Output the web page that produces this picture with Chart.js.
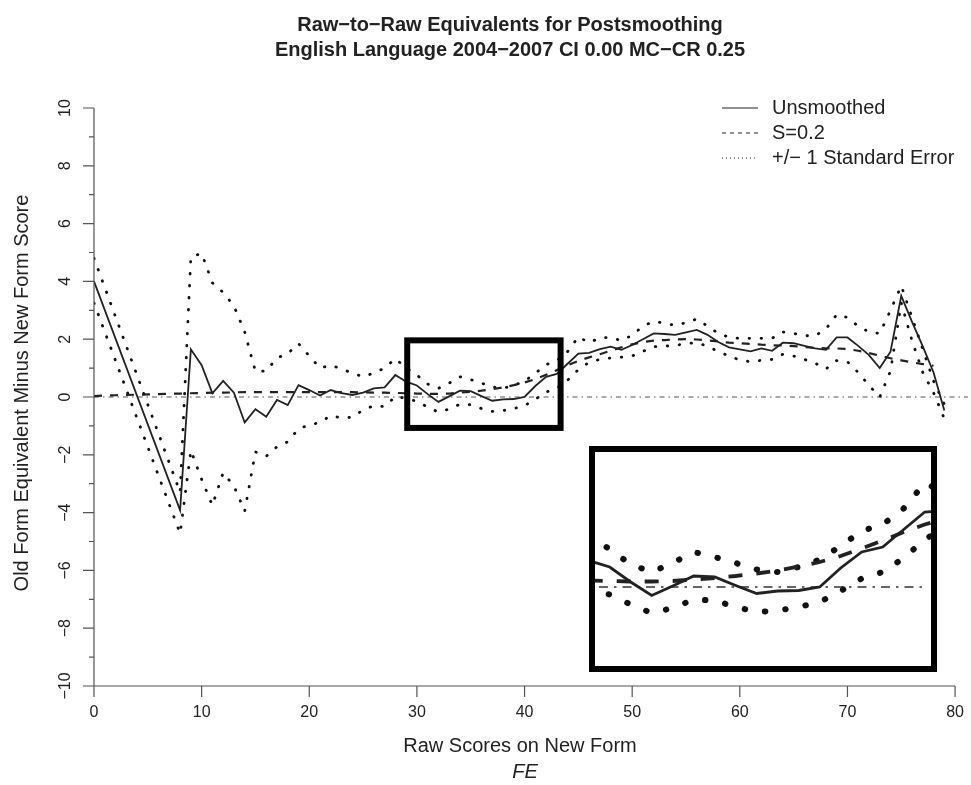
<!DOCTYPE html>
<html>
<head>
<meta charset="utf-8">
<script src="https://cdn.jsdelivr.net/npm/chart.js@4.4.1/dist/chart.umd.min.js"></script>
<style>
  body { margin: 0; background: #fff; }
  #wrap { position: relative; width: 971px; height: 785px; }
  #main { position: absolute; left: 0; top: 0; }
  #inset { position: absolute; left: 589px; top: 446px; }
</style>
</head>
<body>
<div id="wrap">
  <canvas id="main" width="971" height="785"></canvas>
  <canvas id="inset" width="348" height="226"></canvas>
</div>
<script>
var scores = [0, 1, 2, 3, 4, 5, 6, 7, 8, 9, 10, 11, 12, 13, 14, 15, 16, 17, 18, 19,
  20, 21, 22, 23, 24, 25, 26, 27, 28, 29, 30, 31, 32, 33, 34, 35, 36, 37, 38, 39,
  40, 41, 42, 43, 44, 45, 46, 47, 48, 49, 50, 51, 52, 53, 54, 55, 56, 57, 58, 59,
  60, 61, 62, 63, 64, 65, 66, 67, 68, 69, 70, 71, 72, 73, 74, 75, 76, 77, 78, 79]

// unsmoothed raw-to-raw differences (no scores 1-7)
var unsmoothed = [4.0, null, null, null, null, null, null, null, -3.92, 1.65,
  1.1, 0.13, 0.56, 0.15, -0.88, -0.42, -0.68, -0.1, -0.28, 0.41,
  0.24, 0.05, 0.24, 0.13, 0.07, 0.15, 0.3, 0.33, 0.76, 0.53,
  0.4, 0.1, -0.17, 0.02, 0.22, 0.2, 0.03, -0.13, -0.08, -0.07,
  0.0, 0.38, 0.7, 0.8, 1.15, 1.5, 1.53, 1.66, 1.74, 1.63,
  1.8, 2.0, 2.2, 2.18, 2.15, 2.24, 2.32, 2.15, 1.9, 1.72,
  1.65, 1.58, 1.68, 1.6, 1.88, 1.86, 1.77, 1.68, 1.63, 2.06,
  2.06, 1.77, 1.45, 1.0, 1.57, 3.5, 2.6, 1.75, 0.85, -0.47]

// postsmoothed S=0.2
var smoothed = [0.03, 0.05, 0.06, 0.07, 0.08, 0.09, 0.1, 0.11, 0.12, 0.13,
  0.14, 0.15, 0.15, 0.16, 0.17, 0.17, 0.17, 0.17, 0.17, 0.17,
  0.17, 0.17, 0.17, 0.17, 0.17, 0.16, 0.15, 0.15, 0.14, 0.13,
  0.12, 0.11, 0.11, 0.12, 0.15, 0.18, 0.22, 0.27, 0.33, 0.41,
  0.5, 0.62, 0.77, 0.93, 1.1, 1.25, 1.37, 1.48, 1.6, 1.72,
  1.82, 1.9, 1.95, 1.97, 1.99, 2.0, 1.99, 1.96, 1.92, 1.88,
  1.86, 1.84, 1.81, 1.79, 1.78, 1.76, 1.73, 1.7, 1.68, 1.68,
  1.66, 1.6, 1.52, 1.43, 1.34, 1.27, 1.2, 1.14, 1.08, null]

// +/- 1 standard error bands
var upperSE = [4.8, null, null, null, null, null, null, null, -3.3, 4.85,
  4.97, 3.95, 3.62, 3.15, 2.25, 0.88, 0.9, 1.35, 1.5, 1.85,
  1.42, 1.0, 1.1, 0.97, 0.83, 0.7, 0.83, 1.0, 1.33, 1.0,
  0.76, 0.45, 0.3, 0.48, 0.7, 0.6, 0.48, 0.35, 0.3, 0.4,
  0.55, 0.82, 1.12, 1.25, 1.57, 2.08, 1.88, 2.05, 2.06, 1.95,
  2.14, 2.45, 2.62, 2.55, 2.48, 2.57, 2.7, 2.45, 2.2, 2.07,
  2.03, 2.03, 2.03, 2.03, 2.25, 2.2, 2.12, 2.12, 2.35, 2.85,
  2.75, 2.45, 2.25, 2.2, 3.0, 3.85, 2.75, 1.65, 0.55, -0.25]

var lowerSE = [3.25, null, null, null, null, null, null, null, -4.72, -1.85,
  -2.85, -3.75, -2.62, -3.08, -3.95, -1.9, -2.05, -1.72, -1.55, -1.1,
  -0.97, -0.88, -0.64, -0.73, -0.7, -0.45, -0.3, -0.33, 0.02, -0.05,
  -0.15, -0.35, -0.52, -0.42, -0.25, -0.27, -0.4, -0.5, -0.47, -0.4,
  -0.3, -0.08, 0.17, 0.3, 0.58, 0.95, 1.2, 1.3, 1.35, 1.38,
  1.42, 1.58, 1.74, 1.76, 1.78, 1.85, 1.88, 1.76, 1.57, 1.42,
  1.28, 1.22, 1.27, 1.3, 1.48, 1.42, 1.3, 1.17, 0.97, 1.26,
  1.22, 0.85, 0.4, 0.0, 0.9, 3.25, 1.95, 0.85, 0.15, -0.75]

var xTicks = [0, 10, 20, 30, 40, 50, 60, 70, 80]
var yTicks = [-10, -8, -6, -4, -2, 0, 2, 4, 6, 8, 10]
var yMinorTicks = [-9, -7, -5, -3, -1, 1, 3, 5, 7, 9]
var legendLabels = ['Unsmoothed', 'S=0.2', '+/\u2212 1 Standard Error']

// region that is blown up in the inset
var zoomX = [29.1, 43.35]
var zoomY = [-1.07, 1.96]

var FONT = '"Liberation Sans", Arial, Helvetica, sans-serif'
var INK = '#222'

function pts(vals) {
  return scores.map(function (s, i) { return { x: s, y: vals[i] } })
}

function minus(v) {
  return v < 0 ? '\u2212' + Math.abs(v) : String(v)
}

var rAxes = {
  id: 'rAxes',
  beforeDatasetsDraw: function (chart) {
    var ctx = chart.ctx, a = chart.chartArea
    var y0 = chart.scales.y.getPixelForValue(0)
    ctx.save()
    ctx.strokeStyle = '#555'
    ctx.lineWidth = 1
    ctx.setLineDash([5, 4, 1.5, 4])
    ctx.beginPath()
    ctx.moveTo(a.left, y0)
    ctx.lineTo(a.right, y0)
    ctx.stroke()
    ctx.restore()
  },
  afterDraw: function (chart) {
    var ctx = chart.ctx
    var xs = chart.scales.x, ys = chart.scales.y
    var axX = xs.getPixelForValue(0), axY = ys.getPixelForValue(-10)
    ctx.save()
    ctx.strokeStyle = '#555'
    ctx.lineWidth = 1.2

    // y axis
    ctx.beginPath()
    ctx.moveTo(axX, ys.getPixelForValue(10))
    ctx.lineTo(axX, ys.getPixelForValue(-10))
    yTicks.forEach(function (t) {
      var p = ys.getPixelForValue(t)
      ctx.moveTo(axX - 11, p); ctx.lineTo(axX, p)
    })
    yMinorTicks.forEach(function (t) {
      var p = ys.getPixelForValue(t)
      ctx.moveTo(axX - 5, p); ctx.lineTo(axX, p)
    })
    // x axis
    ctx.moveTo(xs.getPixelForValue(0), axY)
    ctx.lineTo(xs.getPixelForValue(80), axY)
    xTicks.forEach(function (t) {
      var p = xs.getPixelForValue(t)
      ctx.moveTo(p, axY); ctx.lineTo(p, axY + 11)
    })
    ctx.stroke()

    ctx.fillStyle = INK
    ctx.font = '16px ' + FONT
    ctx.textAlign = 'center'
    ctx.textBaseline = 'middle'
    xTicks.forEach(function (t) {
      ctx.fillText(String(t), xs.getPixelForValue(t), axY + 27)
    })
    yTicks.forEach(function (t) {
      ctx.save()
      ctx.translate(axX - 28, ys.getPixelForValue(t))
      ctx.rotate(-Math.PI / 2)
      ctx.fillText(minus(t), 0, 0)
      ctx.restore()
    })

    // axis titles
    ctx.font = '20px ' + FONT
    ctx.fillText('Raw Scores on New Form', 520, 746)
    ctx.font = 'italic 20px ' + FONT
    ctx.fillText('FE', 525, 772)
    ctx.font = '20px ' + FONT
    ctx.save()
    ctx.translate(22, 393)
    ctx.rotate(-Math.PI / 2)
    ctx.fillText('Old Form Equivalent Minus New Form Score', 0, 0)
    ctx.restore()

    // title
    ctx.font = 'bold 20px ' + FONT
    ctx.fillText('Raw\u2212to\u2212Raw Equivalents for Postsmoothing', 510, 25)
    ctx.fillText('English Language 2004\u22122007 CI 0.00 MC\u2212CR 0.25', 510, 50)

    // legend
    var dashes = [[], [4, 4], [1, 3]]
    ctx.strokeStyle = INK
    ctx.lineWidth = 1
    ctx.textAlign = 'left'
    ctx.font = '20px ' + FONT
    legendLabels.forEach(function (lab, i) {
      var ly = 108 + i * 25
      ctx.setLineDash(dashes[i])
      ctx.beginPath()
      ctx.moveTo(722, ly)
      ctx.lineTo(758, ly)
      ctx.stroke()
      ctx.fillText(lab, 772, ly)
    })
    ctx.setLineDash([])

    // box around the zoomed region
    var bx1 = xs.getPixelForValue(zoomX[0]), bx2 = xs.getPixelForValue(zoomX[1])
    var by1 = ys.getPixelForValue(zoomY[1]), by2 = ys.getPixelForValue(zoomY[0])
    ctx.strokeStyle = '#000'
    ctx.lineWidth = 6
    ctx.strokeRect(bx1, by1, bx2 - bx1, by2 - by1)
    ctx.restore()
  }
}

var insetFrame = {
  id: 'insetFrame',
  beforeDraw: function (chart) {
    var ctx = chart.ctx
    ctx.save()
    ctx.fillStyle = '#fff'
    ctx.fillRect(0, 0, chart.width, chart.height)
    ctx.restore()
  },
  beforeDatasetsDraw: function (chart) {
    var ctx = chart.ctx, a = chart.chartArea
    var y0 = chart.scales.y.getPixelForValue(0)
    ctx.save()
    ctx.strokeStyle = '#666'
    ctx.lineWidth = 2
    ctx.setLineDash([9, 6, 2.5, 6])
    ctx.beginPath()
    ctx.moveTo(a.left + 4, y0)
    ctx.lineTo(a.right - 4, y0)
    ctx.stroke()
    ctx.restore()
  },
  afterDraw: function (chart) {
    var ctx = chart.ctx
    ctx.save()
    ctx.strokeStyle = '#000'
    ctx.lineWidth = 6
    ctx.strokeRect(3, 3, chart.width - 6, chart.height - 6)
    ctx.restore()
  }
}

new Chart('main', {
  type: 'line',
  data: {
    datasets: [
      { label: 'Unsmoothed', data: pts(unsmoothed), borderColor: INK, borderWidth: 1.8, spanGaps: true },
      { label: 'S=0.2', data: pts(smoothed), borderColor: INK, borderWidth: 2.2, borderDash: [8, 8] },
      { label: 'upper', data: pts(upperSE), borderColor: '#111', borderWidth: 2.8, borderDash: [0.5, 11.5], borderCapStyle: 'round', spanGaps: true },
      { label: 'lower', data: pts(lowerSE), borderColor: '#111', borderWidth: 2.8, borderDash: [0.5, 11.5], borderCapStyle: 'round', spanGaps: true }
    ]
  },
  options: {
    responsive: false,
    animation: false,
    layout: { padding: { left: 94, right: 3, top: 108, bottom: 99 } },
    elements: { point: { radius: 0 }, line: { tension: 0 } },
    scales: {
      x: { type: 'linear', min: 0, max: 81.2, display: false },
      y: { type: 'linear', min: -10, max: 10, display: false }
    },
    plugins: { legend: { display: false }, tooltip: { enabled: false } }
  },
  plugins: [rAxes]
})

new Chart('inset', {
  type: 'line',
  data: {
    datasets: [
      { data: pts(unsmoothed), borderColor: INK, borderWidth: 2.8, spanGaps: true },
      { data: pts(smoothed), borderColor: INK, borderWidth: 3.8, borderDash: [14, 14] },
      { data: pts(upperSE), borderColor: '#111', borderWidth: 6, borderDash: [0.5, 20], borderCapStyle: 'round', spanGaps: true },
      { data: pts(lowerSE), borderColor: '#111', borderWidth: 6, borderDash: [0.5, 20], borderCapStyle: 'round', spanGaps: true }
    ]
  },
  options: {
    responsive: false,
    animation: false,
    layout: { padding: { left: 6, right: 6, top: 6, bottom: 5 } },
    elements: { point: { radius: 0 }, line: { tension: 0 } },
    scales: {
      x: { type: 'linear', min: 29.3, max: 45.3, display: false },
      y: { type: 'linear', min: -1.6, max: 2.7, display: false }
    },
    plugins: { legend: { display: false }, tooltip: { enabled: false } }
  },
  plugins: [insetFrame]
})
</script>
</body>
</html>
